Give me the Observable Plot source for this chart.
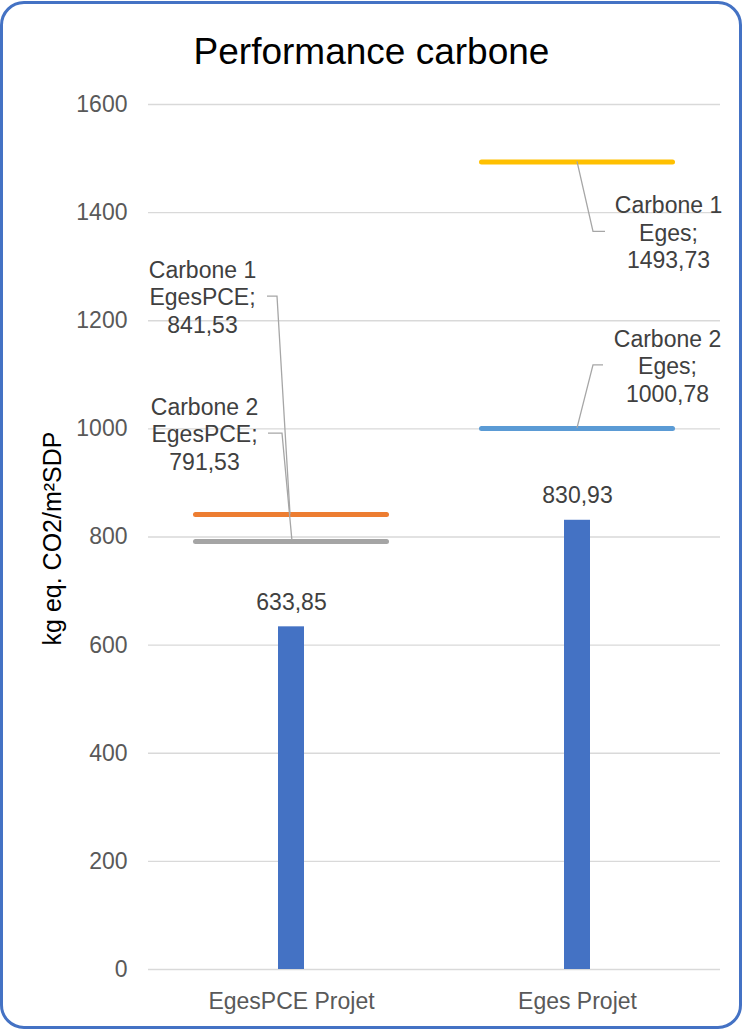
<!DOCTYPE html>
<html>
<head>
<meta charset="utf-8">
<script src="https://cdn.jsdelivr.net/npm/d3@7"></script>
<script src="https://cdn.jsdelivr.net/npm/@observablehq/plot@0.6"></script>
<style>
  html, body { margin: 0; padding: 0; background: #fff; }
  #wrap { position: relative; width: 743px; height: 1031px; font-family: "Liberation Sans", Arial, sans-serif; overflow: hidden; }
  #chart { position: absolute; left: 0; top: 0; }
  #title { position: absolute; left: 0; top: 33px; width: 743px; text-align: center; font-size: 37px; line-height: 37px; color: #000; white-space: nowrap; transform-origin: 377px 0; }
  #frame { position: absolute; left: 0; top: 1px; width: 742px; height: 1028px; box-sizing: border-box; border: 3px solid #4472C4; border-radius: 24px; pointer-events: none; }
</style>
</head>
<body>
<div id="wrap">
  <div id="chart"></div>
  <div id="title">Performance carbone</div>
  <div id="frame"></div>
</div>
<script>
// ---- Data ----
const categories = ["EgesPCE Projet", "Eges Projet"];
const projetValues = [633.85, 830.93];
const lineSeries = ["Carbone 1 EgesPCE", "Carbone 2 EgesPCE", "Carbone 1 Eges", "Carbone 2 Eges"];
const lineCategory = ["EgesPCE Projet", "EgesPCE Projet", "Eges Projet", "Eges Projet"];
const lineValues = [841.53, 791.53, 1493.73, 1000.78];
const yTicks = [0, 200, 400, 600, 800, 1000, 1200, 1400, 1600];
const yLabel = "kg eq. CO2/m²SDP";

// ---- Styles / layout (not data) ----
const lineColors = ["#ED7D31", "#A5A5A5", "#FFC000", "#5B9BD5"];
// label offsets (px) from the point: text centre dx/dy, leader start, elbow and end x offsets
const labelLayout = [
  {dx: -89, dy: -218, pt: -1, elbow: -14, end: -24},
  {dx: -87, dy: -108, pt: 1, elbow: -9, end: -23},
  {dx: 91, dy: 70, pt: 0, elbow: 16, end: 28},
  {dx: 90, dy: -63, pt: 0, elbow: 16, end: 26}
];

const fmt = v => d3.format(".2f")(v).replace(".", ",");

const projetRows = categories.map((c, i) => ({category: c, value: projetValues[i]}));
const lineRows = lineSeries.map((s, i) => ({
  series: s,
  category: lineCategory[i],
  value: lineValues[i],
  color: lineColors[i],
  layout: labelLayout[i],
  label: s.replace(/ (\S+)$/, "\n$1") + ";\n" + fmt(lineValues[i])
}));

const leaders = (index, scales) => {
  const g = d3.create("svg:g")
    .attr("fill", "none")
    .attr("stroke", "#a6a6a6")
    .attr("stroke-width", 1.3);
  const bwRaw = scales.x.bandwidth;
  const bw = typeof bwRaw === "function" ? bwRaw() : bwRaw;
  lineRows.forEach(d => {
    const L = d.layout;
    const cx = scales.x(d.category) + bw / 2;
    const cy = scales.y(d.value);
    g.append("polyline").attr("points",
      [[cx + L.pt, cy], [cx + L.elbow, cy + L.dy], [cx + L.end, cy + L.dy]].map(p => p.join(",")).join(" "));
  });
  return g.node();
};

const marks = [
  Plot.gridY(yTicks, {stroke: "#d9d9d9", strokeOpacity: 1, strokeWidth: 1.3}),
  Plot.axisY(yTicks, {tickSize: 0, tickPadding: 21, fill: "#595959", fontSize: 23, label: null, tickFormat: d => String(d)}),
  Plot.axisX({tickSize: 0, tickPadding: 23, fill: "#595959", fontSize: 23, label: null}),
  Plot.text([yLabel], {frameAnchor: "left", text: d => d, rotate: -90, dx: -96, dy: 1.5, fill: "#000", fontSize: 25, textAnchor: "middle", lineAnchor: "middle"}),
  Plot.barY(projetRows, {x: "category", y: "value", fill: "#4472C4", insetLeft: 130, insetRight: 130}),
  Plot.text(projetRows, {x: "category", y: "value", text: d => fmt(d.value), dy: -24.5, lineAnchor: "middle", fill: "#404040", fontSize: 23}),
  Plot.tickY(lineRows, {x: "category", y: "value", stroke: "color", strokeWidth: 5, strokeLinecap: "round", insetLeft: 47.5, insetRight: 47.5}),
  leaders
];
lineRows.forEach(d => {
  marks.push(Plot.text([d], {x: "category", y: "value", text: "label", dx: d.layout.dx, dy: d.layout.dy, lineAnchor: "middle", lineHeight: 1.2, textAnchor: "middle", fill: "#404040", fontSize: 23}));
});

const chart = Plot.plot({
  width: 743,
  height: 1031,
  marginLeft: 148,
  marginRight: 23,
  marginTop: 104,
  marginBottom: 62,
  style: {fontFamily: "'Liberation Sans', Arial, sans-serif", fontSize: "23px", background: "transparent", overflow: "visible"},
  x: {domain: categories, padding: 0, axis: null},
  y: {domain: [0, 1600], axis: null},
  color: {type: "identity"},
  marks
});
document.getElementById("chart").appendChild(chart);
</script>
</body>
</html>
